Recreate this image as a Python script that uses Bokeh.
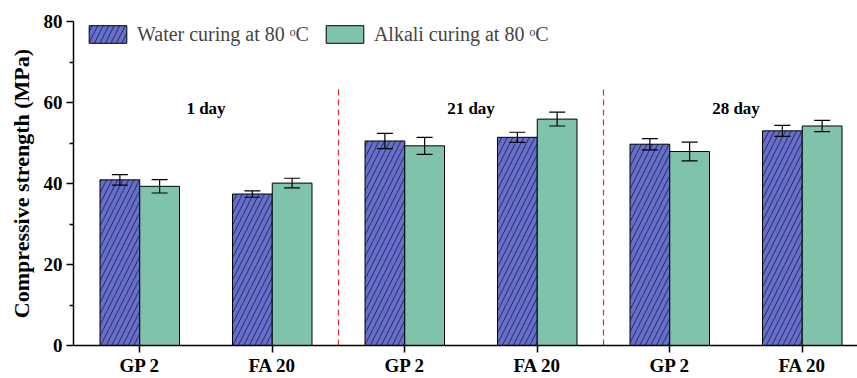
from bokeh.plotting import figure
from bokeh.models import ColumnDataSource, Whisker, FixedTicker, Legend, LegendItem
from bokeh.transform import dodge
from bokeh.core.properties import value
from bokeh.embed import file_html
from bokeh.resources import INLINE

# ---- data ----
categories = ["GP 2", "FA 20", "GP 2", "FA 20", "GP 2", "FA 20"]
positions = [1, 2, 3, 4, 5, 6]
water = [40.9, 37.4, 50.5, 51.4, 49.7, 53.0]
water_err = [1.3, 0.8, 1.9, 1.25, 1.4, 1.35]
alkali = [39.3, 40.1, 49.3, 55.9, 47.9, 54.2]
alkali_err = [1.65, 1.2, 2.1, 1.7, 2.3, 1.4]
day_labels = ["1 day", "21 day", "28 day"]
day_pos = [1.5, 3.5, 5.5]
day_y = 58.5
separators = [2.5, 4.5]
series_names = ["Water curing at 80 \u1d52C", "Alkali curing at 80 \u1d52C"]

BW = 0.3
src = ColumnDataSource(dict(
    x=positions, water=water, alkali=alkali,
    w_up=[v + e for v, e in zip(water, water_err)],
    w_lo=[v - e for v, e in zip(water, water_err)],
    a_up=[v + e for v, e in zip(alkali, alkali_err)],
    a_lo=[v - e for v, e in zip(alkali, alkali_err)],
    xw=[p - BW / 2 for p in positions],
    xa=[p + BW / 2 for p in positions],
))

FONT = "Liberation Serif"

p = figure(width=857, height=378, output_backend="svg", toolbar_location=None,
           x_range=(0.5, 0.5 + (857 - 73) / 132.5), y_range=(0, 80),
           min_border_left=73, min_border_right=0, min_border_top=21, min_border_bottom=30)
p.outline_line_color = None
p.grid.visible = False
p.background_fill_color = "white"
p.border_fill_color = "white"

bw = p.vbar(x=dodge("x", -BW / 2), top="water", width=BW, source=src,
            fill_color="#6670CC", line_color="black", line_width=1,
            hatch_pattern="/", hatch_color="#20204a", hatch_scale=11, hatch_weight=0.9)
ba = p.vbar(x=dodge("x", BW / 2), top="alkali", width=BW, source=src,
            fill_color="#7FC4AA", line_color="black", line_width=1)

for base, up, lo in (("xw", "w_up", "w_lo"), ("xa", "a_up", "a_lo")):
    wk = Whisker(base=base, upper=up, lower=lo, source=src, dimension="height",
                 line_color="black", line_width=1.2, level="overlay")
    wk.upper_head.size = 16
    wk.lower_head.size = 16
    wk.upper_head.line_width = 1.2
    wk.lower_head.line_width = 1.2
    p.add_layout(wk)

for s in separators:
    p.segment(x0=[s], y0=[0], x1=[s], y1=[63.5], line_color="#e8262b",
              line_dash="6 4", line_width=1.2)

p.text(x=day_pos, y=[day_y] * 3, text=day_labels, text_align="center",
       text_baseline="middle", text_font=value(FONT), text_font_style="bold",
       text_font_size="17px", text_color="black")

# axes
p.xaxis.ticker = FixedTicker(ticks=positions)
p.xaxis.major_label_overrides = {pos: c for pos, c in zip(positions, categories)}
p.xaxis.minor_tick_line_color = None
p.yaxis.ticker = FixedTicker(ticks=[0, 20, 40, 60, 80], minor_ticks=[10, 30, 50, 70])
for ax in (p.xaxis, p.yaxis):
    ax.axis_line_width = 1.5
    ax.major_tick_line_width = 1.5
    ax.major_tick_out = 7
    ax.major_tick_in = 0
    ax.major_label_text_font = FONT
    ax.major_label_text_font_style = "bold"
    ax.major_label_text_font_size = "19px"
    ax.major_label_text_color = "black"
    ax.axis_line_color = "black"
    ax.major_tick_line_color = "black"
p.yaxis.minor_tick_out = 4
p.yaxis.minor_tick_in = 0
p.yaxis.minor_tick_line_width = 1.5
p.yaxis.major_label_standoff = 4
p.xaxis.major_label_standoff = 2
p.yaxis.axis_label = "Compressive strength (MPa)"
p.yaxis.axis_label_text_font = FONT
p.yaxis.axis_label_text_font_style = "bold"
p.yaxis.axis_label_text_font_size = "22px"
p.yaxis.axis_label_text_color = "black"
p.yaxis.axis_label_standoff = 7

legend = Legend(items=[LegendItem(label=series_names[0], renderers=[bw]),
                       LegendItem(label=series_names[1], renderers=[ba])],
                orientation="horizontal", location=(11, 299),
                glyph_width=47, glyph_height=22, label_text_font=FONT,
                label_text_font_size="20px", label_standoff=6, spacing=12,
                padding=2, margin=0, border_line_color=None,
                background_fill_alpha=0, label_height=24)
p.add_layout(legend)

open("out.html", "w").write(file_html(p, INLINE))
